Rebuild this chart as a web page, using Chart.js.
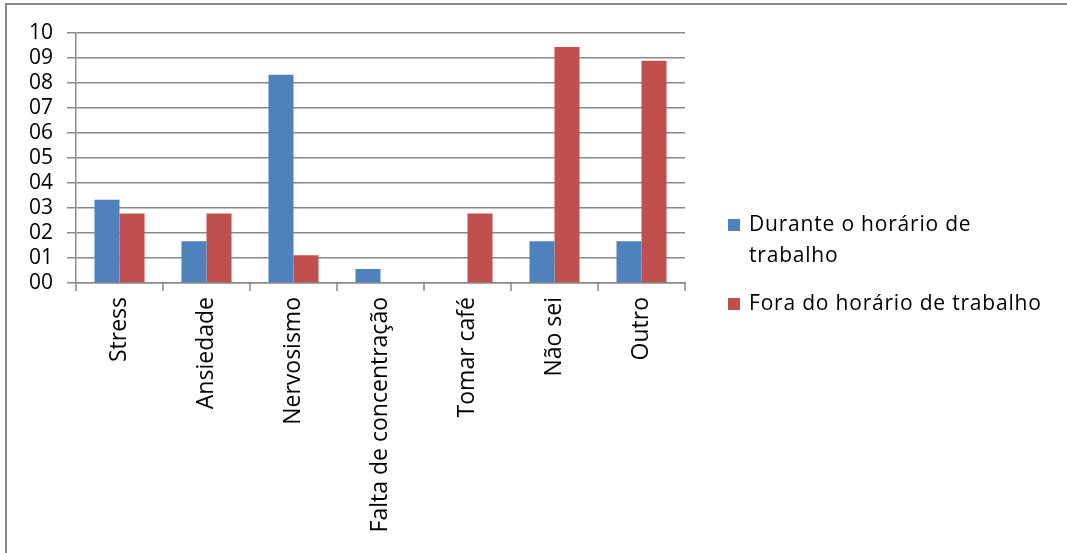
<!DOCTYPE html>
<html>
<head>
<meta charset="utf-8">
<script src="https://cdn.jsdelivr.net/npm/chart.js@4"></script>
<style>
  html, body { margin: 0; padding: 0; background: #fff; }
  #wrap { position: relative; width: 1067px; height: 553px; }
</style>
</head>
<body>
<div id="wrap"><canvas id="chart" width="1067" height="553"></canvas></div>
<script>
// カテゴリと系列の値
const categories = ['Stress', 'Ansiedade', 'Nervosismo', 'Falta de concentração', 'Tomar café', 'Não sei', 'Outro'];
const duranteValues = [3.33, 1.67, 8.33, 0.56, 0, 1.67, 1.67];
const foraValues = [2.78, 2.78, 1.11, 0, 2.78, 9.44, 8.89];
const seriesNames = [['Durante o horário de', 'trabalho'], ['Fora do horário de trabalho']];
const yTicks = ['00', '01', '02', '03', '04', '05', '06', '07', '08', '09', '10'];

const FONT = '"Open Sans"';
const gridColor = '#898989';

// 外枠(上と左のみ見える)と右側の凡例を描くプラグイン
const frameLegend = {
    id: 'frameLegend',
    afterDraw(chart) {
        const ctx = chart.ctx;
        ctx.save();
        ctx.strokeStyle = gridColor;
        ctx.lineWidth = 2;
        ctx.beginPath();
        ctx.moveTo(1067, 4);
        ctx.lineTo(6, 4);
        ctx.lineTo(6, 553);
        ctx.stroke();

        ctx.font = '21px ' + FONT;
        ctx.letterSpacing = '0.8px';
        ctx.textBaseline = 'middle';
        const starts = [225, 304];
        chart.data.datasets.forEach((ds, i) => {
            const y = starts[i];
            ctx.fillStyle = ds.backgroundColor;
            ctx.fillRect(728, y - 6, 12, 12);
            ctx.fillStyle = '#000';
            seriesNames[i].forEach((line, j) => {
                ctx.fillText(line, 749, y + j * 31);
            });
        });
        ctx.restore();
    }
};

new Chart(document.getElementById('chart'), {
    type: 'bar',
    data: {
        labels: categories,
        datasets: [
            { label: seriesNames[0].join(' '), data: duranteValues, backgroundColor: '#4F81BD' },
            { label: seriesNames[1].join(' '), data: foraValues, backgroundColor: '#C0504D' }
        ]
    },
    options: {
        responsive: false,
        animation: false,
        layout: { padding: { top: 33, right: 382, left: 5, bottom: 0 } },
        datasets: { bar: { categoryPercentage: 0.575, barPercentage: 1 } },
        plugins: { legend: { display: false }, tooltip: { enabled: false } },
        scales: {
            x: {
                grid: { display: false, offset: true },
                border: { color: gridColor, width: 1.5 },
                ticks: { color: '#000', font: { family: 'Open Sans', size: 23 }, minRotation: 90, maxRotation: 90, autoSkip: false, padding: 6 },
                afterFit: s => { s.height = 553 - 283; }
            },
            y: {
                min: 0, max: 10,
                grid: { color: gridColor, lineWidth: 1.5, tickLength: 9 },
                border: { color: gridColor, width: 1.5 },
                ticks: {
                    stepSize: 1, autoSkip: false, color: '#000', font: { family: 'Open Sans', size: 21 }, padding: 14,
                    callback: (v, i) => yTicks[i]
                },
                afterFit: s => { s.width = 71; }
            }
        }
    },
    plugins: [frameLegend, {
        // カテゴリ境界の目盛り線
        id: 'xTickMarks',
        afterDraw(chart) {
            const x = chart.scales.x, ctx = chart.ctx;
            const y0 = chart.chartArea.bottom;
            ctx.save();
            ctx.strokeStyle = gridColor;
            ctx.lineWidth = 1.5;
            const w = (x.right - x.left) / categories.length;
            for (let i = 0; i <= categories.length; i++) {
                const px = x.left + i * w;
                ctx.beginPath();
                ctx.moveTo(px, y0);
                ctx.lineTo(px, y0 + 8);
                ctx.stroke();
            }
            ctx.restore();
        }
    }]
});
</script>
</body>
</html>
